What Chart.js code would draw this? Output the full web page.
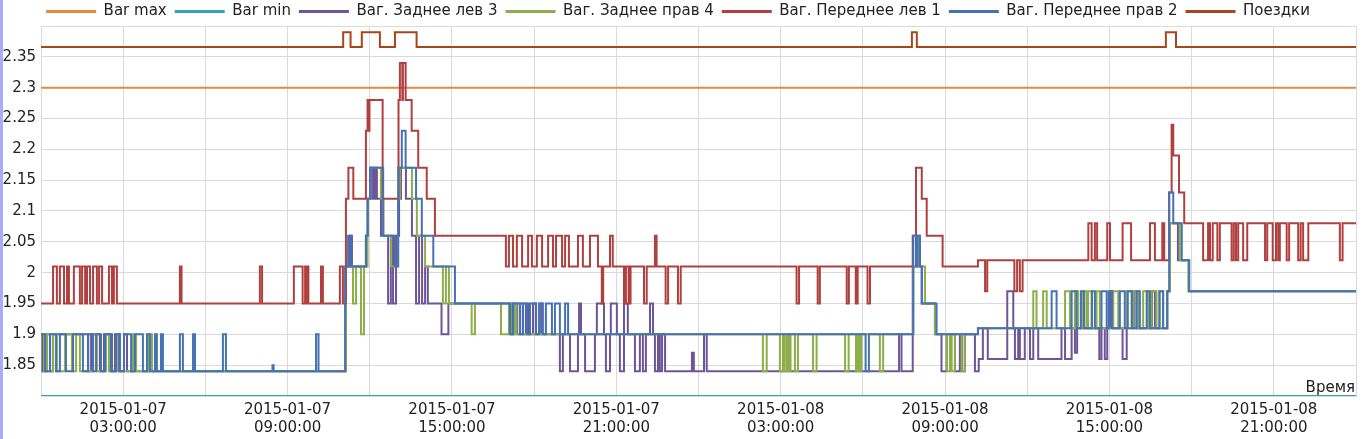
<!DOCTYPE html>
<html>
<head>
<meta charset="utf-8">
<script src="https://cdn.jsdelivr.net/npm/chart.js@4/dist/chart.umd.min.js"></script>
<style>
html, body { margin: 0; padding: 0; background: #fff; }
#wrap { position: relative; width: 1362px; height: 439px; }
#edge { position: absolute; left: 0; top: 0; width: 3px; height: 439px; background: #aaaaff; }
</style>
</head>
<body>
<div id="wrap"><canvas id="myChart"></canvas><div id="edge"></div></div>
<script>
// hours since 2015-01-07 00:00 , value
const barMax = [[0, 2.3], [48, 2.3]]
const barMin = [[0, 1.8], [48, 1.8]]

const zadLev3 = [ // purple
  [0,1.90],[0.05,1.84],[0.18,1.90],[0.33,1.84],[0.44,1.90],[1.72,1.84],[1.83,1.90],[2.15,1.84],[2.30,1.90],[2.59,1.84],[2.70,1.90],[2.85,1.84],[3.03,1.90],[3.14,1.84],
  [11.13,2.01],[11.28,2.06],[11.35,2.01],[11.86,2.06],[11.93,2.12],[12.04,2.17],[12.12,2.12],[12.19,2.17],[12.26,2.12],[12.41,2.06],[12.67,1.95],[12.77,2.06],[12.85,1.95],[12.96,2.06],[13.07,2.12],[13.14,2.17],[13.32,2.12],[13.54,2.06],[13.69,1.95],[13.80,2.06],[13.91,1.95],[14.02,2.01],[14.12,1.95],[14.62,1.90],[14.87,1.95],
  [17.19,1.90],[17.26,1.95],[17.37,1.90],[17.48,1.95],[17.59,1.90],[17.70,1.95],[17.81,1.90],[17.96,1.95],[18.07,1.90],[18.21,1.95],[18.29,1.90],
  [18.94,1.84],[19.05,1.90],[19.31,1.84],[19.60,1.90],[19.64,1.95],[19.71,1.90],[19.86,1.84],[20.22,1.90],[20.29,1.95],[20.55,1.90],[20.62,1.84],[20.77,1.90],[20.80,1.95],[21.02,1.90],[21.13,1.84],[21.28,1.95],[21.42,1.90],[21.68,1.84],[21.86,1.90],[21.97,1.84],[22.08,1.90],[22.23,1.95],[22.34,1.90],[22.41,1.84],[22.52,1.90],[22.59,1.84],[22.67,1.90],[22.78,1.84],[23.76,1.87],[23.83,1.84],[24.20,1.90],[24.30,1.84],[31.32,1.90],[31.41,1.84],
  [31.82,2.01],[31.94,2.06],[32.08,2.01],[32.15,1.95],[32.63,1.90],[32.87,1.84],[33.06,1.90],[33.36,1.84],[33.54,1.90],[33.61,1.84],[33.72,1.90],[34.09,1.84],[34.23,1.86],[34.38,1.91],[34.56,1.86],[35.27,1.97],[35.49,1.91],[35.55,1.86],[35.67,1.91],[35.73,1.86],[35.91,1.91],[36.10,1.86],[36.22,1.91],[36.40,1.86],[37.25,1.91],[37.38,1.86],[37.62,1.91],[37.74,1.87],[37.82,1.91],[38.63,1.86],[38.71,1.91],[38.83,1.86],[38.92,1.91],[39.02,1.97],[39.13,1.91],[39.48,1.86],[39.63,1.91],[39.89,1.97],[39.99,1.91],[40.55,1.97],[40.66,1.91],[41.11,1.97],[41.21,2.08],[41.50,2.02],[41.91,1.97],[48,1.97]
]

const zadPrav4 = [ // green
  [0,1.90],[0.11,1.84],[0.22,1.90],[0.33,1.84],[0.44,1.90],[0.58,1.84],[0.88,1.90],[1.13,1.84],[1.28,1.90],[1.42,1.84],[1.90,1.90],[2.04,1.84],[2.37,1.90],[2.48,1.84],[2.77,1.90],[2.88,1.84],[3.36,1.90],[3.47,1.84],[3.91,1.90],[4.05,1.84],
  [11.13,2.01],[11.39,1.95],[11.50,2.01],[11.68,1.90],[11.79,2.01],[11.92,2.12],[12.01,2.17],[12.41,2.12],[12.50,2.06],[12.78,2.01],[13.03,2.12],[13.10,2.17],[13.54,2.12],[13.72,2.06],[14.02,2.01],[14.67,1.95],[14.78,2.01],[14.89,1.95],[15.72,1.90],[15.84,1.95],[16.79,1.90],[17.08,1.95],[17.15,1.90],[17.26,1.95],[17.34,1.90],
  [26.35,1.84],[26.49,1.90],[26.97,1.84],[27.08,1.90],[27.15,1.84],[27.23,1.90],[27.29,1.84],[27.36,1.90],[27.52,1.84],[27.63,1.90],[28.18,1.84],[28.31,1.90],[29.35,1.84],[29.48,1.90],[29.75,1.84],[29.82,1.90],[29.89,1.84],[29.95,1.90],[30.62,1.84],[30.74,1.90],
  [31.84,2.01],[31.94,2.06],[32.01,2.01],[32.27,1.95],[32.63,1.90],[33.06,1.84],[33.18,1.90],[33.24,1.84],[33.36,1.90],[33.60,1.84],[33.72,1.90],[34.20,1.91],
  [36.22,1.97],[36.34,1.91],[36.58,1.97],[36.71,1.91],[37.38,1.97],[37.56,1.91],[37.74,1.97],[37.86,1.91],[38.04,1.97],[38.16,1.91],[38.22,1.97],[38.35,1.91],[38.53,1.97],[38.65,1.91],[39.14,1.97],[39.32,1.91],[39.63,1.97],[39.81,1.91],[39.87,1.97],[40.05,1.91],[40.23,1.97],[40.41,1.91],[40.54,1.97],[40.72,1.91],[40.84,1.97],[40.96,1.91],[41.11,1.97],[41.21,2.08],[41.57,2.02],[41.88,1.97],[48,1.97]
]

const pered1 = [ // red
  [0,1.95],[0.44,2.01],[0.58,1.95],[0.69,2.01],[0.84,1.95],[0.95,2.01],[1.02,1.95],[1.20,2.01],[1.42,1.95],[1.50,2.01],[1.61,1.95],[1.68,2.01],[1.79,1.95],[1.90,2.01],[2.04,1.95],[2.12,2.01],[2.23,1.95],[2.48,2.01],[2.59,1.95],[2.66,2.01],[2.77,1.95],
  [5.07,2.01],[5.13,1.95],[7.99,2.01],[8.07,1.95],[9.23,2.01],[9.55,1.95],[9.64,2.01],[9.69,1.95],[9.73,2.01],[9.76,1.95],[10.22,2.01],[10.29,1.95],[10.91,2.01],[11.02,1.95],
  [11.13,2.12],[11.22,2.17],[11.40,2.12],[11.86,2.23],[11.92,2.28],[11.95,2.23],[11.99,2.28],[12.47,2.12],[13.05,2.28],[13.10,2.34],[13.19,2.28],[13.21,2.34],[13.31,2.28],[13.53,2.23],[13.77,2.17],[14.08,2.12],[14.38,2.06],
  [16.97,2.01],[17.08,2.06],[17.23,2.01],[17.37,2.06],[17.56,2.01],[17.78,2.06],[17.92,2.01],[18.10,2.06],[18.29,2.01],[18.51,2.06],[18.69,2.01],[18.80,2.06],[19.02,2.01],[19.13,2.06],[19.27,2.01],[19.60,2.06],[19.78,2.01],[20.04,2.06],[20.33,2.01],[20.47,1.95],[20.52,2.01],[20.77,2.06],[20.87,2.01],[21.28,1.95],[21.35,2.01],[21.45,1.95],[21.52,2.01],[22.01,1.95],[22.11,2.01],[22.41,2.06],[22.47,2.01],[22.80,1.95],[22.89,2.01],[23.25,1.95],[23.35,2.01],
  [27.58,1.95],[27.67,2.01],[28.35,1.95],[28.43,2.01],[29.41,1.95],[29.49,2.01],[29.74,1.95],[29.81,2.01],[30.17,1.95],[30.26,2.01],
  [31.82,2.06],[31.94,2.17],[32.15,2.12],[32.33,2.06],[32.91,2.01],[34.20,2.02],[34.46,1.97],[34.54,2.02],[35.53,1.97],[35.63,2.02],[35.73,1.97],[35.83,2.02],
  [38.23,2.08],[38.35,2.02],[38.47,2.08],[38.55,2.02],[38.92,2.08],[39.02,2.02],[39.48,2.08],[39.79,2.02],[40.48,2.08],[40.66,2.02],[40.93,2.08],[41.00,2.02],
  [41.18,2.13],[41.27,2.24],[41.33,2.19],[41.54,2.13],[41.73,2.08],
  [42.42,2.02],[42.60,2.08],[42.67,2.02],[42.77,2.08],[42.94,2.02],[43.03,2.08],[43.46,2.02],[43.54,2.08],[43.62,2.02],[43.70,2.08],[43.88,2.02],[44.03,2.08],[44.68,2.02],[44.76,2.08],[44.96,2.02],[45.08,2.08],[45.16,2.02],[45.22,2.08],[45.47,2.02],[45.56,2.08],[45.89,2.02],[45.98,2.08],[46.07,2.02],[46.26,2.08],[47.41,2.02],[47.51,2.08],[48,2.08]
]

const pered2 = [ // blue
  [0,1.90],[0.15,1.84],[0.33,1.90],[0.55,1.84],[0.69,1.90],[0.91,1.84],[1.17,1.90],[1.53,1.84],[1.72,1.90],[1.90,1.84],[2.01,1.90],[2.19,1.84],[2.34,1.90],[2.55,1.84],[2.74,1.90],[2.88,1.84],[3.03,1.90],[3.29,1.84],[3.43,1.90],[3.72,1.84],[3.87,1.90],[3.98,1.84],[4.16,1.90],[4.23,1.84],[4.38,1.90],[4.45,1.84],[5.07,1.90],[5.18,1.84],[5.55,1.90],[5.62,1.84],[6.64,1.90],[6.75,1.84],[8.45,1.85],[8.49,1.84],[10.04,1.90],[10.13,1.84],
  [11.10,2.01],[11.21,2.06],[11.30,2.01],[11.86,2.06],[11.92,2.12],[12.01,2.17],[12.49,2.06],[12.92,2.01],[13.04,2.17],[13.17,2.23],[13.31,2.17],[13.69,2.12],[13.90,2.06],[14.32,2.01],[15.11,1.95],
  [17.12,1.90],[17.23,1.95],[17.48,1.90],[17.59,1.95],[17.74,1.90],[17.85,1.95],[18.07,1.90],[18.18,1.95],[18.32,1.90],[18.43,1.95],[18.65,1.90],[18.76,1.95],[18.94,1.90],[19.13,1.95],[19.24,1.90],
  [30.10,1.84],[30.22,1.90],
  [31.84,2.06],[31.94,2.01],[31.99,2.06],[32.08,2.01],[32.15,1.95],[32.69,1.90],[34.20,1.91],
  [36.89,1.97],[37.07,1.91],[37.62,1.97],[37.80,1.91],[37.96,1.97],[38.07,1.91],[38.36,1.97],[38.47,1.91],[38.71,1.97],[38.90,1.91],[38.98,1.97],[39.09,1.91],[39.38,1.97],[39.56,1.91],[39.67,1.97],[39.82,1.91],[39.99,1.97],[40.11,1.91],[40.36,1.97],[40.48,1.91],[40.82,1.97],[40.96,1.91],[41.11,1.97],[41.18,2.13],[41.33,2.08],[41.64,2.02],[41.91,1.97],[48,1.97]
]

const poezdki = [
  [0,2.366],[11.03,2.39],[11.30,2.366],[11.71,2.39],[12.37,2.366],[12.92,2.39],[13.71,2.366],[31.79,2.39],[31.97,2.366],[41.06,2.39],[41.43,2.366],[48,2.366]
]

const xRange = [0, 48]
const yRange = [1.8, 2.4]
const startDay = 7 // 2015-01-07

const pts = arr => arr.map(p => ({ x: p[0], y: p[1] }))

function ds(label, arr, color, order) {
  return {
    label: label,
    data: pts(arr),
    borderColor: color,
    backgroundColor: color,
    borderWidth: 2,
    pointRadius: 0,
    stepped: true,
    order: order
  }
}

const datasets = [
  ds('Bar max', barMax, '#e8893c', 6),
  ds('Bar min', barMin, '#3d9dc0', 0),
  ds('Ваг. Заднее лев 3', zadLev3, '#6c5599', 5),
  ds('Ваг. Заднее прав 4', zadPrav4, '#8dae4a', 4),
  ds('Ваг. Переднее лев 1', pered1, '#b0403f', 3),
  ds('Ваг. Переднее прав 2', pered2, '#4472b4', 1),
  ds('Поездки', poezdki, '#a6471b', 2)
]

// legend: fixed height, items moved up a bit
const legendFit = {
  id: 'legendFit',
  beforeInit(chart) {
    const fit = chart.legend.fit
    chart.legend.fit = function () {
      fit.bind(chart.legend)()
      this.height = 26
    }
  },
  afterLayout(chart) {
    chart.legend.top = -4
  }
}

// "Время" in the lower right corner of the plot
const timeTitle = {
  id: 'timeTitle',
  afterDraw(chart) {
    const { ctx, chartArea } = chart
    ctx.save()
    ctx.font = '15px "DejaVu Sans"'
    ctx.fillStyle = '#222'
    ctx.textAlign = 'right'
    ctx.textBaseline = 'alphabetic'
    ctx.fillText('Время', chartArea.right - 1, chartArea.bottom - 4)
    ctx.restore()
  }
}

Chart.defaults.font.family = '"DejaVu Sans", sans-serif'
Chart.defaults.font.size = 15
Chart.defaults.color = '#222'

const config = {
  type: 'line',
  data: { datasets: datasets },
  options: {
    animation: false,
    responsive: true,
    maintainAspectRatio: false,
    layout: { padding: { right: 6, left: 0, top: 0, bottom: 0 } },
    plugins: {
      tooltip: { enabled: false },
      legend: {
        position: 'top',
        labels: {
          boxWidth: 50,
          boxHeight: 3,
          padding: 8,
          sort: (a, b) => a.datasetIndex - b.datasetIndex,
          generateLabels(chart) {
            const items = Chart.defaults.plugins.legend.labels.generateLabels(chart)
            items.forEach(it => { it.fillStyle = it.strokeStyle; it.lineWidth = 0 })
            return items
          }
        }
      }
    },
    scales: {
      x: {
        type: 'linear',
        min: xRange[0],
        max: xRange[1],
        grid: { color: '#dadada', drawTicks: false },
        border: { color: '#dadada' },
        ticks: {
          stepSize: 3,
          autoSkip: false,
          maxRotation: 0,
          padding: 5,
          callback(v) {
            if (v % 6 !== 3) return ''
            const day = startDay + Math.floor(v / 24)
            const hh = String(v % 24).padStart(2, '0')
            return ['2015-01-' + String(day).padStart(2, '0'), hh + ':00:00']
          }
        },
        afterFit(s) { s.height = 43 }
      },
      y: {
        min: yRange[0],
        max: yRange[1],
        grid: { color: '#dadada', drawTicks: false },
        border: { color: '#dadada' },
        ticks: {
          stepSize: 0.05,
          padding: 5,
          callback(v) {
            if (Math.abs(v - yRange[0]) < 1e-6 || Math.abs(v - yRange[1]) < 1e-6) return ''
            return String(Number(v.toFixed(2)))
          }
        },
        afterFit(s) { s.width = 41 }
      }
    }
  },
  plugins: [legendFit, timeTitle]
}

const myChart = new Chart(document.getElementById('myChart'), config)
</script>
</body>
</html>
